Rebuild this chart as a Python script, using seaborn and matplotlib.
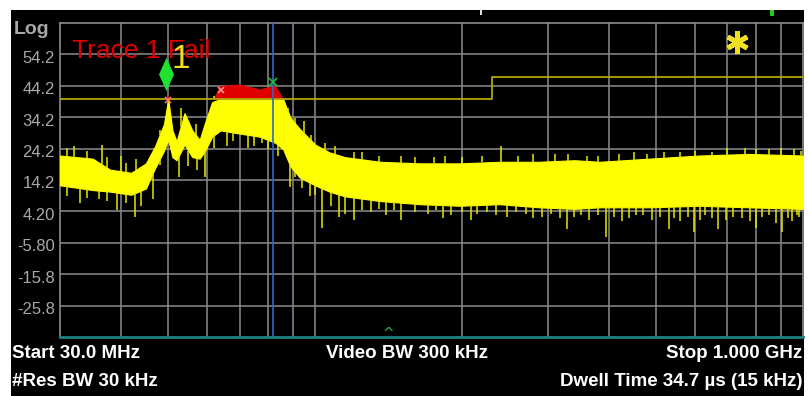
import numpy as np
import pandas as pd
import matplotlib
matplotlib.use("Agg")
import matplotlib.pyplot as plt
from matplotlib.patches import Rectangle
import seaborn as sns

# trace envelope (MHz, dB)
freq = [30, 35, 38, 42, 45, 47, 49, 50, 51, 52, 54, 56, 58, 59.5, 61.5, 64, 70, 77, 83, 86,
        89, 93, 100, 107, 115, 136, 164, 198, 239, 288, 340, 383, 484, 613, 776, 1000]
upper = [22, 21, 17.5, 16.5, 19.5, 25, 32, 41, 30, 26.5, 35.5, 30, 27, 32.5, 39, 44, 44.5, 43, 44, 40,
         34, 30.5, 25.5, 23, 21.5, 20, 19.5, 19.5, 20, 20, 20.5, 20, 21, 22, 22.5, 22]
lower = [12.5, 11, 10.5, 9.5, 11.5, 18, 23.5, 27, 21.5, 20.5, 25.5, 21.5, 21, 23.5, 28, 30, 29, 28, 26, 24,
         18.5, 15, 12.5, 10.5, 9, 7.5, 6.5, 6, 6.5, 5.5, 5, 5.5, 5.5, 6, 5.5, 5]

# single spikes sticking out of the band
down_f = [31, 33, 34, 36, 37.5, 39.3, 41, 42.7, 44, 46.6, 48, 52.6, 55, 57.3, 59.4, 62, 66, 68, 72.8,
          75, 78, 80, 84, 88.7, 91, 94, 97.6, 100, 103.5, 108, 112, 115, 120, 125, 130, 135, 140, 145,
          150, 160, 170, 177, 183, 190, 200, 209, 215, 225, 235, 247, 258, 270, 280, 292, 305, 318,
          329, 340, 350, 365, 380, 395, 410, 425, 440, 455, 470, 490, 510, 532, 545, 560, 580, 598,
          615, 630, 650, 670, 695, 720, 750, 780, 802, 825, 850, 880, 906, 930, 950, 970, 982]
down_db = [9, 7, 8.5, 8, 7.5, 4.6, 7, 2.5, 6, 8, 19, 15, 18.5, 17.5, 15, 24.5, 25, 26.5, 24.5,
           25, 26, 24, 22, 12, 15, 11.5, 9, 9.5, -1, 6, 2.5, 3.5, 1.5, 4.5, 4, 5, 3, 4.5,
           1.5, 4, 3.5, 4.5, 2, 3, 4, 1.5, 3.5, 4, 3, 2.5, 4, 3.5, 2, 2.5, 3.5, 2,
           -1.5, 2.5, 3, 1.5, 3, -4, 2.5, 1, 2, 3, 3, 1.5, 2.5, -1.5, 2, 1, 2.5, -2.5,
           1.5, 3, 2, -1.5, 1.5, 2.5, 2, 1, -1, 2.5, 3, 0.5, -2.5, 2, 1, 3, 2.5]
up_f = [31, 32, 34, 36.5, 37.5, 40, 41, 43, 48, 53, 57, 62, 88, 91, 95, 98, 105, 110, 120, 125,
        135, 150, 160, 175, 185, 200, 220, 241, 260, 280, 310, 330, 360, 380, 420, 450, 480, 520,
        560, 600, 650, 700, 760, 800, 850, 900, 960, 990]
up_db = [24.5, 25, 23.5, 25.5, 21.5, 22, 19.5, 21, 30, 37, 32, 41, 37, 34, 33, 28.5, 26, 25, 23, 23,
         22, 22, 21.5, 21.5, 22, 21.5, 22, 25, 22, 22.5, 22.5, 22.5, 22, 22, 22.5, 23, 22.5, 23,
         23, 23.5, 23, 24.5, 24.5, 24, 24, 24.5, 24, 23.5]

# limit line
lim_f = [30, 230, 230, 1000]
lim_db = [40, 40, 47, 47]

yticks = [54.2, 44.2, 34.2, 24.2, 14.2, 4.2, -5.8, -15.8, -25.8]
ylabels = ["54.2", "44.2", "34.2", "24.2", "14.2", "4.20", "-5.80", "-15.8", "-25.8"]
xgrid = [40, 50, 60, 70, 80, 90, 100, 200, 300, 400, 500, 600, 700, 800, 900]

sns.set_style("dark")
plt.rcParams["font.family"] = ["Liberation Sans", "DejaVu Sans"]

W, H = 808, 396
fig = plt.figure(figsize=(W / 100, H / 100), dpi=100, facecolor="white")
fig.patches.append(Rectangle((11 / W, 0), 793 / W, 386 / H, transform=fig.transFigure,
                             facecolor="black", edgecolor="none", zorder=-10))


def px(x, y):
    return x / W, 1 - y / H


ax = fig.add_axes([60 / W, 1 - 337 / H, 743 / W, 314 / H])
ax.set_facecolor("black")
ax.set_xscale("log")
ax.set_xlim(30, 1000)
ax.set_ylim(-35.8, 64.2)

# grid
for g in xgrid:
    ax.axvline(g, color="#8c8c8c", lw=1.1, zorder=1)
for t in yticks:
    ax.axhline(t, color="#8c8c8c", lw=1.1, zorder=1)
ax.set_xticks([])
ax.set_xticks([], minor=True)
ax.set_yticks([])
for side in ["left", "top", "right"]:
    ax.spines[side].set_color("#8c8c8c")
    ax.spines[side].set_linewidth(1.2)
ax.spines["bottom"].set_color("#1f8080")
ax.spines["bottom"].set_linewidth(2)

# trace
up = np.array(upper, dtype=float)
lo = np.array(lower, dtype=float)
lim_at = np.where(np.array(freq) < 230, 40.0, 47.0)
ax.fill_between(freq, lo, np.minimum(up, lim_at), color="#ffff00", lw=0.8, edgecolor="#ffff00", zorder=3)
ax.fill_between(freq, lim_at, up, where=up > lim_at, interpolate=True, color="#e00000",
                lw=0.5, edgecolor="#e00000", zorder=3)
lo_at = np.interp(np.log(down_f), np.log(freq), lo)
ax.vlines(down_f, down_db, lo_at, color="#e8e800", lw=1.1, zorder=3)
up_at = np.interp(np.log(up_f), np.log(freq), up)
ax.vlines(up_f, up_at, up_db, color="#e8e800", lw=1.1, zorder=3)

# limit line
lim = pd.DataFrame({"f": lim_f, "db": lim_db})
sns.lineplot(data=lim, x="f", y="db", sort=False, estimator=None, color="#b4a800", lw=1.3,
             ax=ax, zorder=4)
ax.set_xlabel("")
ax.set_ylabel("")

# markers
ax.axvline(81.8, color="#2a6cc8", lw=1.2, zorder=5)
ax.plot([81.8], [45.4], marker="x", color="#20c040", ms=6, mew=1.2, zorder=6)
ax.plot([50], [39.7], marker="x", color="#ff7070", ms=5, mew=1.2, zorder=6)
ax.plot([64], [42.9], marker="x", color="#ff9090", ms=5, mew=1.2, zorder=6)
ax.plot([49.5], [48.1], marker=[(0, -1), (0.45, 0), (0, 1), (-0.45, 0)], color="#20e030",
        ms=24, mew=0, zorder=6)
ax.plot([733], [58.1], marker=(6, 2, 0), color="#f0e020", ms=16, mew=3.5, zorder=6)

# labels
gray = "#a8a8a8"
for t, lab in zip(yticks, ylabels):
    fig.text(55 / W, 1 - (23 + (64.2 - t) * 3.14 + 4) / H, lab, color=gray, fontsize=12,
             ha="right", va="center")
fig.text(*px(14, 29), "Log", color=gray, fontsize=14, fontweight="bold", ha="left", va="center")
fig.text(*px(72, 51), "Trace 1 Fail", color="#e00000", fontsize=19, ha="left", va="center",
         zorder=5)
fig.text(*px(181, 59), "1", color="#f0e020", fontsize=24, ha="center", va="center", zorder=6)

fig.text(*px(388, 334), "^", color="#20c040", fontsize=10, ha="center", va="center",
         family=["DejaVu Sans"])
fs = 13.5
fig.text(*px(12, 353), "Start 30.0 MHz", color="white", fontsize=fs, fontweight="bold",
         ha="left", va="center")
fig.text(*px(407, 353), "Video BW 300 kHz", color="white", fontsize=fs, fontweight="bold",
         ha="center", va="center")
fig.text(*px(802, 353), "Stop 1.000 GHz", color="white", fontsize=fs, fontweight="bold",
         ha="right", va="center")
fig.text(*px(12, 381), "#Res BW 30 kHz", color="white", fontsize=fs, fontweight="bold",
         ha="left", va="center")
fig.text(*px(802, 381), "Dwell Time 34.7 µs (15 kHz)", color="white", fontsize=fs,
         fontweight="bold", ha="right", va="center")

# little status marks above the grid
fig.patches.append(Rectangle(px(770, 16), 4 / W, 6 / H, transform=fig.transFigure,
                             facecolor="#20d020", edgecolor="none"))
fig.patches.append(Rectangle(px(480, 15), 2 / W, 5 / H, transform=fig.transFigure,
                             facecolor="#dddddd", edgecolor="none"))

fig.savefig("out.png", dpi=100, facecolor="white")
